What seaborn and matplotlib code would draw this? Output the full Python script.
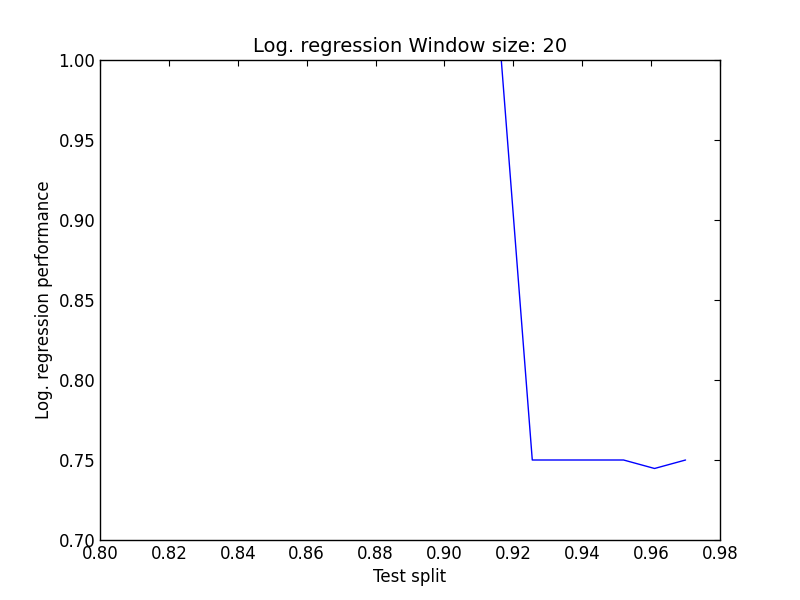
import matplotlib
matplotlib.use('Agg')
import matplotlib.pyplot as plt
import pandas as pd
import seaborn as sns

test_split = [0.9165, 0.9255, 0.934, 0.943, 0.952, 0.961, 0.970]
performance = [1.0, 0.75, 0.75, 0.75, 0.75, 0.7447, 0.75]

sns.set_style('white')
plt.rcParams['font.family'] = ['DejaVu Sans']
plt.rcParams['text.color'] = 'black'
plt.rcParams['axes.labelcolor'] = 'black'
plt.rcParams['xtick.direction'] = 'in'
plt.rcParams['ytick.direction'] = 'in'
plt.rcParams['xtick.top'] = True
plt.rcParams['ytick.right'] = True
plt.rcParams['xtick.major.size'] = 4
plt.rcParams['ytick.major.size'] = 4

df = pd.DataFrame({'split': test_split, 'perf': performance})

fig, ax = plt.subplots(figsize=(8, 6), dpi=100)
fig.subplots_adjust(left=0.125, right=0.9, bottom=0.1, top=0.9)
sns.lineplot(data=df, x='split', y='perf', color='blue', linewidth=1, ax=ax)
ax.set_xlim(0.80, 0.98)
ax.set_ylim(0.70, 1.00)
ax.set_xticks([0.80 + 0.02 * i for i in range(10)])
ax.set_yticks([0.70 + 0.05 * i for i in range(7)])
ax.tick_params(labelsize=12, colors='black', length=4)
for s in ax.spines.values():
    s.set_color('black')
    s.set_linewidth(1)
ax.set_title('Log. regression Window size: 20', fontsize=14, color='black')
ax.set_xlabel('Test split', fontsize=12, color='black')
ax.set_ylabel('Log. regression performance', fontsize=12, color='black')
fig.savefig('out.png', dpi=100)
